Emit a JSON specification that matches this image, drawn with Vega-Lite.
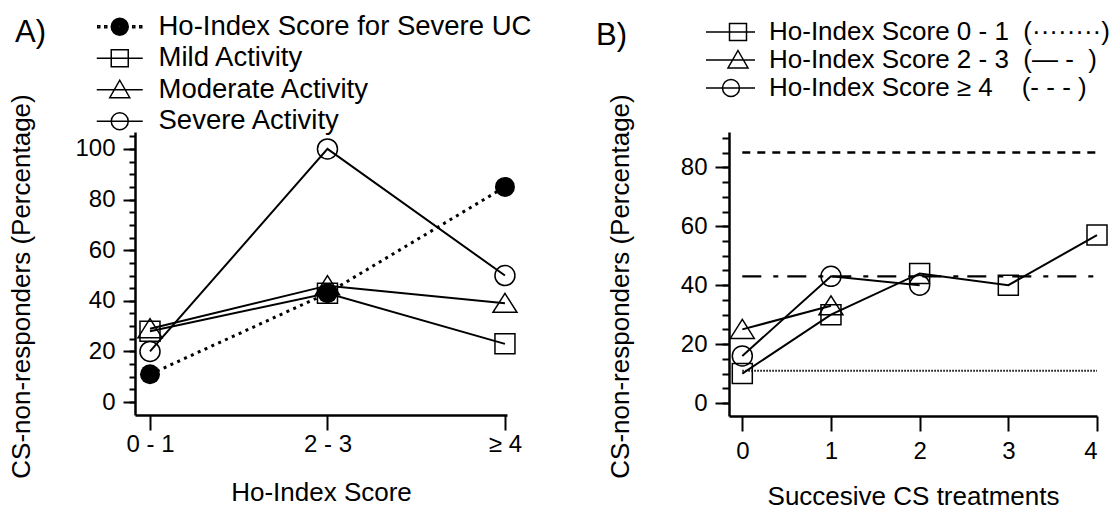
{
  "$schema": "https://vega.github.io/schema/vega-lite/v6.json",
  "background": "white",
  "padding": {"left": 8, "top": 0, "right": 5, "bottom": 5},
  "config": {
    "font": "Liberation Sans",
    "view": {"stroke": null},
    "axis": {
      "domain": true, "domainColor": "black", "domainWidth": 2.5, "tickColor": "black", "tickWidth": 2,
      "labelColor": "black", "titleColor": "black", "labelFont": "Liberation Sans", "titleFont": "Liberation Sans",
      "labelFontSize": 24, "titleFontSize": 26, "titleFontWeight": "normal", "grid": false
    },
    "legend": {"labelFont": "Liberation Sans", "labelColor": "black", "labelLimit": 0},
    "title": {"font": "Liberation Sans", "fontSize": 31, "fontWeight": "normal", "color": "black"}
  },
  "spacing": 64,
  "resolve": {
    "scale": {"shape": "independent", "strokeDash": "independent", "strokeWidth": "independent", "x": "independent", "y": "independent"},
    "legend": {"shape": "independent"}
  },
  "hconcat": [
    {
      "width": 372,
      "height": 283,
      "title": {"text": "A)", "anchor": "start", "frame": "group", "dx": -120, "dy": 40},
      "data": {"values": [
        {"series": "Mild Activity", "score": "0 - 1", "value": 28},
        {"series": "Mild Activity", "score": "2 - 3", "value": 43},
        {"series": "Mild Activity", "score": "≥ 4", "value": 23},
        {"series": "Moderate Activity", "score": "0 - 1", "value": 29},
        {"series": "Moderate Activity", "score": "2 - 3", "value": 46},
        {"series": "Moderate Activity", "score": "≥ 4", "value": 39},
        {"series": "Severe Activity", "score": "0 - 1", "value": 20},
        {"series": "Severe Activity", "score": "2 - 3", "value": 100},
        {"series": "Severe Activity", "score": "≥ 4", "value": 50},
        {"series": "Ho-Index Score for Severe UC", "score": "0 - 1", "value": 11},
        {"series": "Ho-Index Score for Severe UC", "score": "2 - 3", "value": 43},
        {"series": "Ho-Index Score for Severe UC", "score": "≥ 4", "value": 85}
      ]},
      "encoding": {
        "x": {
          "field": "score", "type": "ordinal",
          "scale": {"type": "point", "domain": ["0 - 1", "2 - 3", "≥ 4"], "padding": 0.048, "align": 0.88},
          "axis": {"title": "Ho-Index Score", "labelAngle": 0, "tickSize": 15, "labelPadding": 2, "titlePadding": 23}
        }
      },
      "resolve": {"scale": {"shape": "independent"}, "axis": {"y": "independent"}},
      "layer": [
        {
          "transform": [{"filter": "datum.series !== 'Ho-Index Score for Severe UC'"}],
          "mark": {"type": "line", "color": "black", "strokeWidth": 2},
          "encoding": {
            "y": {
              "field": "value", "type": "quantitative",
              "scale": {"domain": [-5.1, 106.7], "nice": false, "zero": false},
              "axis": {
                "orient": "left",
                "title": "CS-non-responders (Percentage)",
                "values": [0, 20, 40, 60, 80, 100],
                "tickSize": 12,
                "labelPadding": 8, "titlePadding": 40, "titleY": 154
              }
            },
            "detail": {"field": "series"}
          }
        },
        {
          "transform": [{"filter": "datum.series === 'Ho-Index Score for Severe UC'"}],
          "mark": {"type": "line", "color": "black", "strokeWidth": 3, "strokeDash": [3, 4.5]},
          "encoding": {
            "y": {
              "field": "value", "type": "quantitative",
              "axis": {
                "orient": "left", "title": null, "domain": false, "labels": false,
                "values": [0, 5, 10, 15, 20, 25, 30, 35, 40, 45, 50, 55, 60, 65, 70, 75, 80, 85, 90, 95, 100, 105],
                "tickSize": 6
              }
            }
          }
        },
        {
          "transform": [{"filter": "datum.series !== 'Ho-Index Score for Severe UC'"}],
          "mark": {"type": "point", "filled": false, "stroke": "black", "strokeWidth": 1.5, "size": 400, "opacity": 1},
          "encoding": {
            "y": {"field": "value", "type": "quantitative", "axis": null},
            "shape": {
              "field": "series",
              "scale": {"domain": ["Mild Activity", "Moderate Activity", "Severe Activity"], "range": ["square", "M0,-1L1.2,0.9L-1.2,0.9Z", "circle"]},
              "legend": null
            }
          }
        },
        {
          "transform": [{"filter": "datum.series === 'Ho-Index Score for Severe UC'"}],
          "mark": {"type": "point", "filled": true, "color": "black", "shape": "circle", "size": 400, "opacity": 1},
          "encoding": {
            "y": {"field": "value", "type": "quantitative", "axis": null}
          }
        },
        {
          "transform": [{"filter": "false"}],
          "mark": {"type": "point", "filled": false, "stroke": "black", "strokeWidth": 1.5, "opacity": 1},
          "encoding": {
            "y": {"field": "value", "type": "quantitative", "axis": null},
            "shape": {
              "field": "series",
              "scale": {
                "domain": ["Ho-Index Score for Severe UC", "Mild Activity", "Moderate Activity", "Severe Activity"],
                "range": [
                  "M-0.9,-0.1h0.2v0.2h-0.2ZM-0.2,-0.1h0.2v0.2h-0.2ZM2.6,-0.1h0.2v0.2h-0.2ZM3.3,-0.1h0.2v0.2h-0.2ZM0.45,0A0.85,0.85,0,1,1,2.15,0A0.85,0.85,0,1,1,0.45,0ZM0.6,0A0.7,0.7,0,1,1,2,0A0.7,0.7,0,1,1,0.6,0ZM0.75,0A0.55,0.55,0,1,1,1.85,0A0.55,0.55,0,1,1,0.75,0ZM0.9,0A0.4,0.4,0,1,1,1.7,0A0.4,0.4,0,1,1,0.9,0ZM1.05,0A0.25,0.25,0,1,1,1.55,0A0.25,0.25,0,1,1,1.05,0ZM1.2,0A0.1,0.1,0,1,1,1.4,0A0.1,0.1,0,1,1,1.2,0Z",
                  "M-1,0H3.6M0.45,-0.85H2.15V0.85H0.45Z",
                  "M-1,0H3.6M1.3,-0.95L2.3,0.8H0.3Z",
                  "M-1,0H3.6M0.45,0A0.85,0.85,0,1,1,2.15,0A0.85,0.85,0,1,1,0.45,0Z"
                ]
              },
              "legend": {
                "title": null, "orient": "none", "legendX": -42, "legendY": -119, "padding": 0,
                "symbolSize": 400, "symbolStrokeWidth": 1.5, "symbolStrokeColor": "black", "symbolOpacity": 1,
                "labelFontSize": 27.5, "labelOffset": 38, "rowPadding": 2.5
              }
            }
          }
        }
      ]
    },
    {
      "width": 368,
      "height": 284,
      "title": {"text": "B)", "anchor": "start", "frame": "group", "dx": -133, "dy": 56},
      "encoding": {
        "x": {
          "type": "quantitative",
          "scale": {"domain": [-0.15, 4], "nice": false, "zero": false},
          "axis": {"title": "Succesive CS treatments", "values": [0, 1, 2, 3, 4], "tickSize": 15, "labelPadding": 8, "titlePadding": 20, "format": "d"}
        }
      },
      "resolve": {"scale": {"strokeDash": "independent", "strokeWidth": "independent", "shape": "independent"}, "axis": {"y": "independent"}},
      "layer": [
        {
          "data": {"values": [
            {"level": "0 - 1", "value": 11},
            {"level": "2 - 3", "value": 43},
            {"level": "≥ 4", "value": 85}
          ]},
          "mark": {"type": "rule", "color": "black"},
          "encoding": {
            "x": {"datum": 0, "type": "quantitative"},
            "x2": {"datum": 4},
            "y": {
              "field": "value", "type": "quantitative",
              "scale": {"domain": [-4.4, 92.0], "nice": false, "zero": false},
              "axis": {
                "orient": "left",
                "title": "CS-non-responders (Percentage)",
                "values": [0, 20, 40, 60, 80],
                "tickSize": 14,
                "labelPadding": 8, "titlePadding": 47, "titleY": 154
              }
            },
            "strokeDash": {
              "field": "level",
              "scale": {"domain": ["0 - 1", "2 - 3", "≥ 4"], "range": [[1.5, 1.5], [19, 12, 5, 9], [8, 7]]},
              "legend": null
            },
            "strokeWidth": {
              "field": "level",
              "scale": {"domain": ["0 - 1", "2 - 3", "≥ 4"], "range": [2, 2.5, 2.5]},
              "legend": null
            }
          }
        },
        {
          "data": {"name": "b"},
          "mark": {"type": "line", "strokeWidth": 2, "color": "black"},
          "encoding": {
            "x": {"field": "treatments", "type": "quantitative"},
            "y": {
              "field": "value", "type": "quantitative",
              "axis": {
                "orient": "left", "title": null, "domain": false, "labels": false,
                "values": [0, 5, 10, 15, 20, 25, 30, 35, 40, 45, 50, 55, 60, 65, 70, 75, 80, 85, 90],
                "tickSize": 7
              }
            },
            "detail": {"field": "series"}
          }
        },
        {
          "data": {"name": "b"},
          "mark": {"type": "point", "filled": false, "stroke": "black", "strokeWidth": 1.5, "size": 400, "opacity": 1},
          "encoding": {
            "x": {"field": "treatments", "type": "quantitative"},
            "y": {"field": "value", "type": "quantitative", "axis": null},
            "shape": {
              "field": "series",
              "scale": {
                "domain": ["Ho-Index Score 0 - 1", "Ho-Index Score 2 - 3", "Ho-Index Score ≥ 4"],
                "range": ["square", "M0,-1L1.2,0.9L-1.2,0.9Z", "circle"]
              },
              "legend": null
            }
          }
        },
        {
          "data": {"name": "b"},
          "transform": [{"filter": "false"}],
          "mark": {"type": "point", "filled": false, "stroke": "black", "strokeWidth": 1.5, "opacity": 1},
          "encoding": {
            "x": {"field": "treatments", "type": "quantitative"},
            "y": {"field": "value", "type": "quantitative", "axis": null},
            "shape": {
              "field": "series",
              "scale": {
                "domain": ["Ho-Index Score 0 - 1\u00a0\u00a0(········)", "Ho-Index Score 2 - 3\u00a0\u00a0(— -\u00a0\u00a0)", "Ho-Index Score ≥ 4\u00a0\u00a0\u00a0\u00a0(- - - )"],
                "range": [
                  "M-1,0H3.9M1.35,-0.85H3.05V0.85H1.35Z",
                  "M-1,0H3.9M2.2,-0.95L3.2,0.8H1.2Z",
                  "M-1,0H3.9M0.65,0A0.85,0.85,0,1,1,2.35,0A0.85,0.85,0,1,1,0.65,0Z"
                ]
              },
              "legend": {
                "title": null, "orient": "none", "legendX": -45, "legendY": -132, "padding": 19,
                "symbolSize": 400, "symbolStrokeWidth": 1.5, "symbolStrokeColor": "black", "symbolOpacity": 1,
                "labelFontSize": 26, "labelOffset": 40, "rowPadding": 2
              }
            }
          }
        }
      ]
    }
  ],
  "datasets": {
    "b": [
      {"series": "Ho-Index Score 0 - 1", "treatments": 0, "value": 10},
      {"series": "Ho-Index Score 0 - 1", "treatments": 1, "value": 30},
      {"series": "Ho-Index Score 0 - 1", "treatments": 2, "value": 44},
      {"series": "Ho-Index Score 0 - 1", "treatments": 3, "value": 40},
      {"series": "Ho-Index Score 0 - 1", "treatments": 4, "value": 57},
      {"series": "Ho-Index Score 2 - 3", "treatments": 0, "value": 25},
      {"series": "Ho-Index Score 2 - 3", "treatments": 1, "value": 33},
      {"series": "Ho-Index Score ≥ 4", "treatments": 0, "value": 16},
      {"series": "Ho-Index Score ≥ 4", "treatments": 1, "value": 43},
      {"series": "Ho-Index Score ≥ 4", "treatments": 2, "value": 40}
    ]
  }
}
